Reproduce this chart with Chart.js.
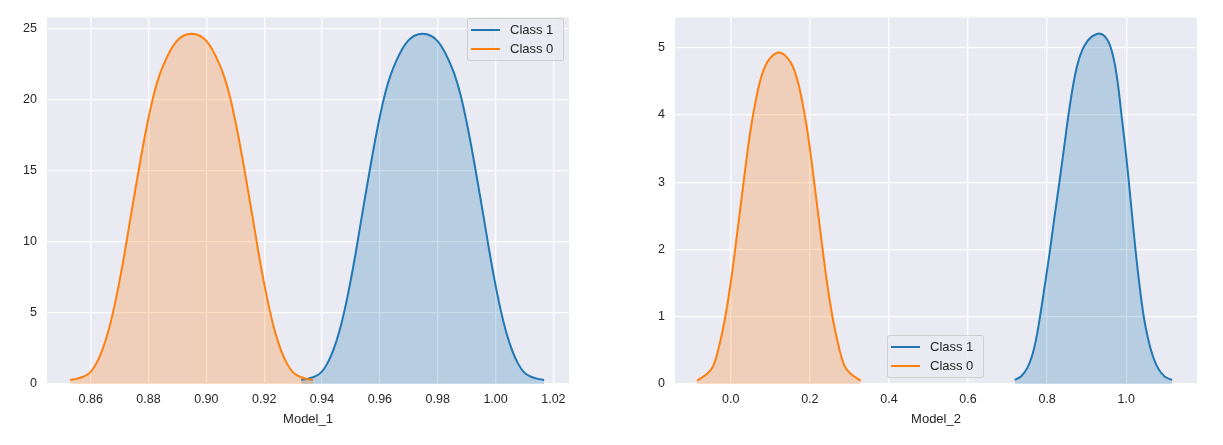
<!DOCTYPE html>
<html>
<head>
<meta charset="utf-8">
<script src="https://cdn.jsdelivr.net/npm/chart.js@4.4.1/dist/chart.umd.min.js"></script>
<style>
  body { margin: 0; background: #fff; width: 1223px; height: 445px; position: relative; overflow: hidden; }
  canvas { position: absolute; top: 0; }
  .legend {
    position: absolute; box-sizing: border-box;
    border: 1px solid rgba(204,204,204,0.9); border-radius: 3px;
    background: rgba(234,234,242,0.85);
    font-family: "Liberation Sans", Arial, sans-serif; font-size: 13px; color: #262626;
    padding-top: 1px;
  }
  .legend .row { height: 19px; line-height: 19px; white-space: nowrap; display: flex; align-items: center; }
  .legend .swatch { display: inline-block; width: 29px; height: 2px; margin-left: 3px; margin-right: 10px; }
</style>
</head>
<body>
<canvas id="chart1" width="600" height="445" style="left:0px"></canvas>
<canvas id="chart2" width="613" height="445" style="left:610px"></canvas>
<div id="legend1" class="legend" style="left:467px; top:18px; width:97px; height:43px"></div>
<div id="legend2" class="legend" style="left:887px; top:335px; width:97px; height:43px"></div>
<script>
// series names and axis titles
const seriesLabels = ["Class 1", "Class 0"];
const axisTitles = ["Model_1", "Model_2"];

// Model_1, Class 1 (blue)
const m1Class1X = [0.9328, 0.9353, 0.9378, 0.9398, 0.9418, 0.9438, 0.9458, 0.9478, 0.9498, 0.9518, 0.9538,
  0.9558, 0.9578, 0.9598, 0.9618, 0.9638, 0.9658, 0.9678, 0.9698, 0.9718, 0.9748, 0.9778, 0.9798, 0.9818,
  0.9838, 0.9858, 0.9878, 0.9898, 0.9918, 0.9938, 0.9958, 0.9978, 0.9998, 1.0018, 1.0038, 1.0058, 1.0078,
  1.0098, 1.0118, 1.0143, 1.0168];
const m1Class1Y = [0.28, 0.38, 0.55, 0.83, 1.43, 2.33, 3.56, 5.19, 7.16, 9.40, 11.83,
  14.20, 16.50, 18.60, 20.40, 21.75, 22.75, 23.55, 24.12, 24.45, 24.6, 24.45, 24.12, 23.55,
  22.75, 21.75, 20.40, 18.60, 16.50, 14.20, 11.83, 9.40, 7.16, 5.19, 3.56, 2.33, 1.43,
  0.83, 0.55, 0.38, 0.28];

// Model_1, Class 0 (orange)
const m1Class0X = [0.8529, 0.8554, 0.8579, 0.8599, 0.8619, 0.8639, 0.8659, 0.8679, 0.8699, 0.8719, 0.8739,
  0.8759, 0.8779, 0.8799, 0.8819, 0.8839, 0.8859, 0.8879, 0.8899, 0.8919, 0.8949, 0.8979, 0.8999, 0.9019,
  0.9039, 0.9059, 0.9079, 0.9099, 0.9119, 0.9139, 0.9159, 0.9179, 0.9199, 0.9219, 0.9239, 0.9259, 0.9279,
  0.9299, 0.9319, 0.9344, 0.9369];
const m1Class0Y = [0.28, 0.38, 0.55, 0.83, 1.43, 2.33, 3.56, 5.19, 7.16, 9.40, 11.83,
  14.20, 16.50, 18.60, 20.40, 21.75, 22.75, 23.55, 24.12, 24.45, 24.6, 24.45, 24.12, 23.55,
  22.75, 21.75, 20.40, 18.60, 16.50, 14.20, 11.83, 9.40, 7.16, 5.19, 3.56, 2.33, 1.43,
  0.83, 0.55, 0.38, 0.28];

// Model_2, Class 1 (blue)
const m2Class1X = [0.718, 0.735, 0.750, 0.762, 0.772, 0.782, 0.795, 0.8075, 0.819, 0.831, 0.8425, 0.854, 0.866,
  0.877, 0.889, 0.902, 0.914, 0.926, 0.934, 0.942, 0.951, 0.958, 0.965, 0.972, 0.980, 0.988, 0.998, 1.0067,
  1.015, 1.0234, 1.033, 1.0444, 1.055, 1.066, 1.080, 1.097, 1.116];
const m2Class1Y = [0.06, 0.12, 0.24, 0.42, 0.66, 1.0, 1.5, 2.0, 2.5, 3.0, 3.5, 4.0, 4.45,
  4.76, 4.97, 5.1, 5.17, 5.205, 5.21, 5.19, 5.13, 5.05, 4.92, 4.73, 4.42, 4.0, 3.5, 3.0,
  2.5, 2.0, 1.5, 1.0, 0.68, 0.44, 0.24, 0.11, 0.06];

// Model_2, Class 0 (orange)
const m2Class0X = [-0.0853, -0.0583, -0.0433, -0.0283, -0.0183, -0.0083, 0.0017, 0.0117, 0.0217, 0.0317, 0.0417,
  0.0517, 0.0617, 0.0717, 0.0817, 0.0917, 0.1017, 0.1117, 0.1217, 0.1317, 0.1417, 0.1517, 0.1617, 0.1717,
  0.1817, 0.1917, 0.2017, 0.2117, 0.2217, 0.2317, 0.2417, 0.2517, 0.2617, 0.2717, 0.2867, 0.3017, 0.3287];
const m2Class0Y = [0.05, 0.16, 0.28, 0.59, 0.86, 1.19, 1.58, 2.03, 2.50, 2.97, 3.43,
  3.84, 4.17, 4.45, 4.65, 4.78, 4.86, 4.91, 4.93, 4.91, 4.86, 4.78, 4.65, 4.45,
  4.17, 3.84, 3.43, 2.97, 2.50, 2.03, 1.58, 1.19, 0.86, 0.59, 0.28, 0.16, 0.05];

const blue = "#1f77b4";
const orange = "#ff7f0e";
const textColor = "#262626";
const fontFamily = "'Liberation Sans', Arial, sans-serif";

Chart.defaults.font.family = fontFamily;
Chart.defaults.color = textColor;

function toPoints(xs, ys) {
  return xs.map((x, i) => ({ x: x, y: ys[i] }));
}

// grey plot background like seaborn darkgrid
const plotBackground = {
  id: "plotBackground",
  beforeDraw(chart) {
    const { ctx, chartArea } = chart;
    ctx.save();
    ctx.fillStyle = "#eaeaf2";
    ctx.fillRect(chartArea.left, chartArea.top, chartArea.right - chartArea.left, chartArea.bottom - chartArea.top);
    ctx.restore();
  },
};

function makeDataset(label, xs, ys, color, fillColor, order) {
  return {
    label: label,
    data: toPoints(xs, ys),
    borderColor: color,
    backgroundColor: fillColor,
    borderWidth: 2,
    pointRadius: 0,
    fill: "origin",
    tension: 0.4,
    order: order,
  };
}

function makeChart(canvasId, datasets, cfg) {
  return new Chart(document.getElementById(canvasId), {
    type: "line",
    data: { datasets: datasets },
    plugins: [plotBackground],
    options: {
      responsive: false,
      animation: false,
      layout: { padding: { top: 12, right: cfg.padRight, bottom: 18, left: 0 } },
      plugins: { legend: { display: false }, tooltip: { enabled: false } },
      scales: {
        x: {
          type: "linear",
          min: cfg.xMin,
          max: cfg.xMax,
          border: { display: false },
          grid: { color: "#ffffff", lineWidth: 1.3, drawTicks: false },
          ticks: {
            stepSize: cfg.xStep,
            includeBounds: false,
            padding: 8,
            maxRotation: 0,
            font: { size: 12.5 },
            color: textColor,
            callback: (v) => v.toFixed(cfg.xDecimals),
          },
          title: { display: true, text: cfg.title, font: { size: 13 }, padding: { top: 0, bottom: 0 }, color: textColor },
          afterFit: (scale) => { scale.height = 43; },
        },
        y: {
          min: 0,
          max: cfg.yMax,
          border: { display: false },
          grid: { color: "#ffffff", lineWidth: 1.3, drawTicks: false },
          ticks: { stepSize: cfg.yStep, includeBounds: false, padding: 10, font: { size: 12.5 }, color: textColor },
          afterFit: (scale) => { scale.width = cfg.yWidth; },
        },
      },
    },
  });
}

const chart1 = makeChart("chart1", [
  makeDataset(seriesLabels[0], m1Class1X, m1Class1Y, blue, "rgba(31,119,180,0.25)", 1),
  makeDataset(seriesLabels[1], m1Class0X, m1Class0Y, orange, "rgba(255,127,14,0.25)", 0),
], { title: axisTitles[0], xMin: 0.8449, xMax: 1.0254, xStep: 0.02, xDecimals: 2, yMax: 25.75, yStep: 5, yWidth: 47, padRight: 31 });

const chart2 = makeChart("chart2", [
  makeDataset(seriesLabels[0], m2Class1X, m2Class1Y, blue, "rgba(31,119,180,0.25)", 1),
  makeDataset(seriesLabels[1], m2Class0X, m2Class0Y, orange, "rgba(255,127,14,0.25)", 0),
], { title: axisTitles[1], xMin: -0.141, xMax: 1.179, xStep: 0.2, xDecimals: 1, yMax: 5.45, yStep: 1, yWidth: 65, padRight: 26 });

// html legend built from the chart datasets
function buildLegend(elId, chart) {
  const el = document.getElementById(elId);
  chart.data.datasets.forEach((ds) => {
    const row = document.createElement("div");
    row.className = "row";
    const sw = document.createElement("span");
    sw.className = "swatch";
    sw.style.background = ds.borderColor;
    const txt = document.createElement("span");
    txt.textContent = ds.label;
    row.appendChild(sw);
    row.appendChild(txt);
    el.appendChild(row);
  });
}
buildLegend("legend1", chart1);
buildLegend("legend2", chart2);
</script>
</body>
</html>
